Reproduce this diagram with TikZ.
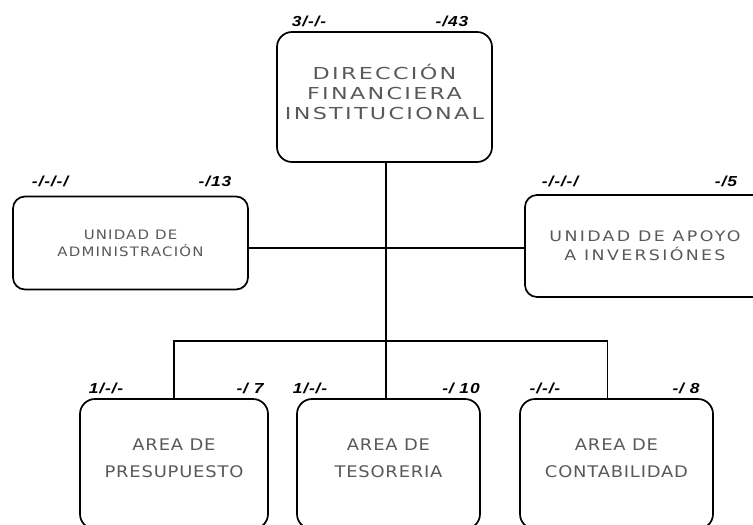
\documentclass[tikz,border=0pt]{standalone}
\usepackage{fontspec}
\newfontfamily\tagfont[FakeStretch=1.2,LetterSpace=6]{Liberation Sans}
\newfontfamily\topfont[FakeStretch=1.35,LetterSpace=14]{DejaVu Sans}
\newfontfamily\sidefont[FakeStretch=1.15,LetterSpace=9]{DejaVu Sans}
\newfontfamily\apoyofont[FakeStretch=1.2,LetterSpace=16]{DejaVu Sans}
\newfontfamily\areafont[FakeStretch=1.12,LetterSpace=5]{DejaVu Sans}
\usetikzlibrary{calc}
\tikzset{every picture/.style={line width=1.7pt}}
\tikzset{
  unitbox/.style={draw, rounded corners=15pt, inner sep=0pt, align=center,
    text=black!65},
  tagtext/.style={inner sep=0.75pt, font=\tagfont\bfseries\itshape\fontsize{14.5}{16}\selectfont}
}

\begin{document}
\begin{tikzpicture}[x=1pt,y=1pt,yscale=-1,xscale=1]
\useasboundingbox (0,0) rectangle (753,525);
\begin{scope}
\clip (0,0) rectangle (753,525);

%Boxes
\node [unitbox, minimum width=215pt, minimum height=130pt, text depth=10pt, font=\topfont\fontsize{16.5}{20}\selectfont] (dir) at (384.5,97) {DIRECCIÓN\\FINANCIERA\\INSTITUCIONAL};
\node [unitbox, minimum width=235pt, minimum height=93pt, rounded corners=12pt, font=\sidefont\fontsize{13}{17}\selectfont] (adm) at (130.5,243) {UNIDAD DE\\ADMINISTRACIÓN};
\node [unitbox, minimum width=240pt, minimum height=102pt, rounded corners=12pt, font=\apoyofont\fontsize{14.5}{19}\selectfont] (apoyo) at (645,246) {UNIDAD DE APOYO\\A INVERSIÓNES};
\node [unitbox, minimum width=188pt, minimum height=130pt, text depth=12pt, font=\areafont\fontsize{16}{27}\selectfont] (pres) at (174,464) {AREA DE\\PRESUPUESTO};
\node [unitbox, minimum width=183pt, minimum height=130pt, text depth=12pt, font=\areafont\fontsize{16}{27}\selectfont] (tes) at (388.5,464) {AREA DE\\TESORERIA};
\node [unitbox, minimum width=193pt, minimum height=130pt, text depth=12pt, font=\areafont\fontsize{16}{27}\selectfont] (cont) at (616.5,464) {AREA DE\\CONTABILIDAD};
\end{scope}

%Connectors
\coordinate (mid) at (386,248);
\coordinate (bar) at (386,341);
\draw (dir.south -| bar) -- (bar |- tes.north);
\draw (adm.east |- mid) -- (apoyo.west |- mid);
\draw (pres.north) |- (bar) -| ([xshift=-9pt]cont.north);

% Text Node
\node [tagtext] (t1) at (309,21) {3/-/-};
\node [tagtext] (t2) at (452,21) {-/43};
\node [tagtext] (t3) at (50,181) {-/-/-/};
\node [tagtext] (t4) at (215,181) {-/13};
\node [tagtext] (t5) at (560,181) {-/-/-/};
\node [tagtext] (t6) at (726,181) {-/5};
\node [tagtext] (t7) at (106,388) {1/-/-};
\node [tagtext] (t8) at (250,388) {-/ 7};
\node [tagtext] (t9) at (310,388) {1/-/-};
\node [tagtext] (t10) at (461,388) {-/ 10};
\node [tagtext] (t11) at (545,388) {-/-/-};
\node [tagtext] (t12) at (686,388) {-/ 8};

\end{tikzpicture}
\end{document}
